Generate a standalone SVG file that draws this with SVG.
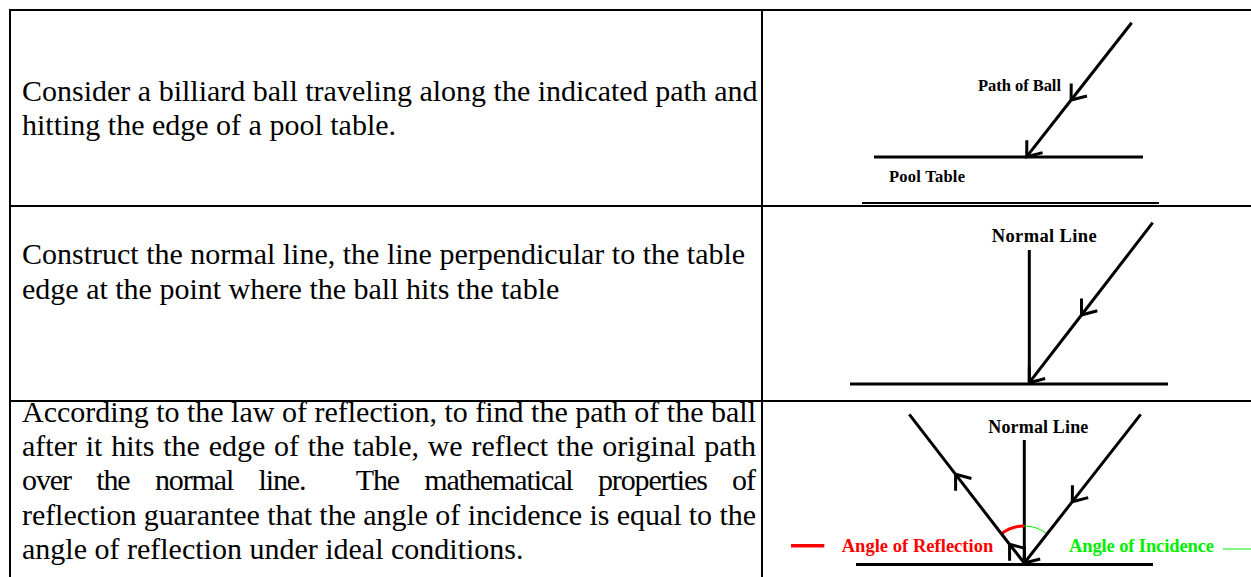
<svg xmlns="http://www.w3.org/2000/svg" width="1251" height="577" viewBox="0 0 1251 577">
<style>
.body{font-family:"Liberation Serif","Times New Roman",serif;font-size:30px;fill:#000}
.lbl{font-family:"Liberation Serif","Times New Roman",serif;font-weight:bold;fill:#000}
.grid{stroke:#000;stroke-width:2;fill:none}
.ray{stroke:#000;stroke-width:3;fill:none}
.edge{stroke:#000;stroke-width:3;fill:none}
</style>
<defs>
<marker id="chev" markerUnits="userSpaceOnUse" orient="auto" viewBox="-18 -14 22 28" markerWidth="22" markerHeight="28" refX="0" refY="0">
<path d="M -13 -10 L 0 0 L -13 10" fill="none" stroke="#000" stroke-width="3"/>
</marker>
</defs>
<rect width="1251" height="577" fill="#fff"/>
<g id="table">
<line class="grid" x1="10" y1="10" x2="1251" y2="10"/>
<line class="grid" x1="10" y1="9" x2="10" y2="577"/>
<line class="grid" x1="762" y1="10" x2="762" y2="577"/>
<line class="grid" x1="10" y1="206" x2="1251" y2="206"/>
<line class="grid" x1="10" y1="401" x2="1251" y2="401"/>
</g>
<g id="text1">
<text class="body" x="22" y="101">Consider a billiard ball traveling along the indicated path and</text>
<text class="body" x="22" y="135">hitting the edge of a pool table.</text>
</g>
<g id="text2">
<text class="body" x="22" y="264">Construct the normal line, the line perpendicular to the table</text>
<text class="body" x="22" y="299">edge at the point where the ball hits the table</text>
</g>
<g id="text3">
<text class="body" x="22" y="422" textLength="734">According to the law of reflection, to find the path of the ball</text>
<text class="body" x="22" y="456" word-spacing="1.2" textLength="734">after it hits the edge of the table, we reflect the original path</text>
<text class="body" x="22" y="490" xml:space="preserve" word-spacing="19" textLength="734">over the normal line.  The mathematical properties of</text>
<text class="body" x="22" y="525" textLength="734">reflection guarantee that the angle of incidence is equal to the</text>
<text class="body" x="22" y="559">angle of reflection under ideal conditions.</text>
</g>
<g id="fig1">
<line class="edge" x1="874" y1="157" x2="1143" y2="157"/>
<line class="grid" x1="862" y1="203" x2="1159" y2="203"/>
<text class="lbl" x="978" y="90.7" font-size="16.5" textLength="83">Path of Ball</text>
<text class="lbl" x="889" y="181.7" font-size="16.5" textLength="76">Pool Table</text>
</g>
<g id="fig2">
<line class="edge" x1="850" y1="384" x2="1168" y2="384"/>
<line class="ray" x1="1029.3" y1="250" x2="1029.3" y2="383"/>
<text class="lbl" x="991.7" y="242" font-size="18.5" textLength="105">Normal Line</text>
</g>
<g id="fig3">
<line class="edge" x1="856" y1="564.5" x2="1153" y2="564.5"/>
<line class="ray" x1="1024.3" y1="440" x2="1024.3" y2="563"/>
<text class="lbl" x="988.3" y="433.3" font-size="18" textLength="100">Normal Line</text>
<path d="M 1001.4 533.7 A 37 37 0 0 1 1024.3 526" fill="none" stroke="#f00" stroke-width="3"/>
<path d="M 1024.3 526 A 37 37 0 0 1 1047 533.8" fill="none" stroke="#0e0" stroke-width="1"/>
<line x1="791" y1="545.7" x2="824.3" y2="545.7" stroke="#f00" stroke-width="3.5"/>
<text class="lbl" x="841.7" y="551.7" font-size="18.5" style="fill:#f00" textLength="151.6">Angle of Reflection</text>
<text class="lbl" x="1069" y="551.7" font-size="18.5" style="fill:#0e0" textLength="145">Angle of Incidence</text>
<line x1="1222.7" y1="549" x2="1251" y2="549" stroke="#0e0" stroke-width="1"/>
</g>
<g id="connectors">
<polyline class="ray" points="1131.7,22.7 1071.1,100 1026.7,156.7" marker-mid="url(#chev)" marker-end="url(#chev)"/>
<polyline class="ray" points="1152.7,222.7 1081.5,315 1029.3,382.7" marker-mid="url(#chev)" marker-end="url(#chev)"/>
<polyline class="ray" points="1140.7,414.3 1072.3,501.7 1024.3,563" marker-mid="url(#chev)" marker-end="url(#chev)"/>
<polyline class="ray" points="1024.3,563 1009.5,544.3 955.6,474.3 909.3,414.3" marker-mid="url(#chev)"/>
</g>
</svg>
